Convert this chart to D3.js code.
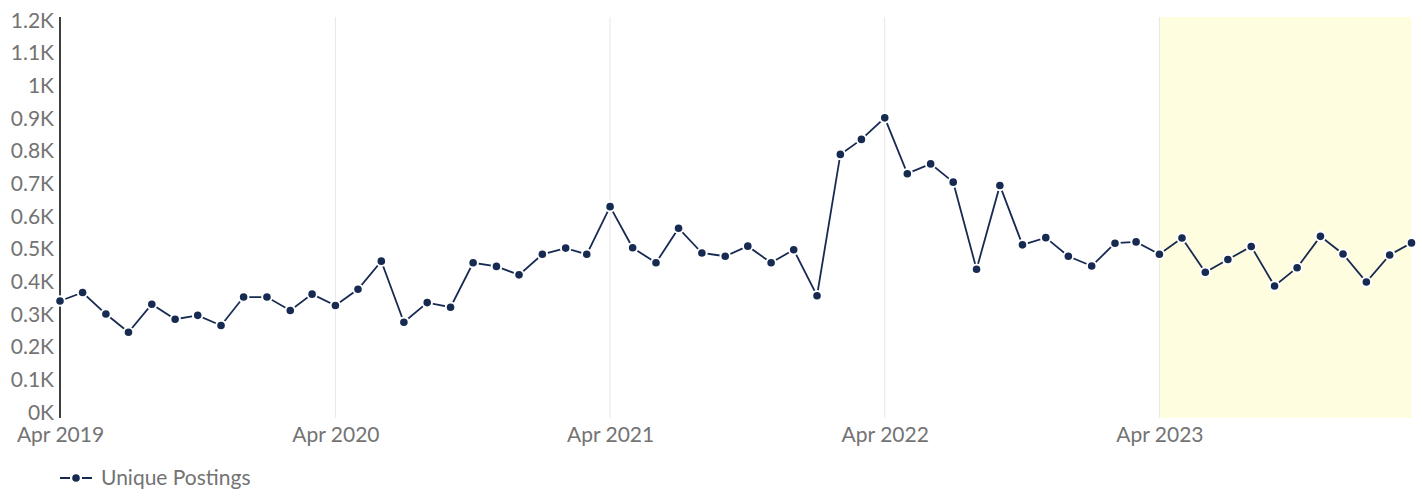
<!DOCTYPE html>
<html>
<head>
<meta charset="utf-8">
<script src="https://cdn.jsdelivr.net/npm/d3@7"></script>
<style>
  html, body { margin: 0; padding: 0; background: #ffffff; }
  svg { display: block; font-family: Lato, "Noto Sans", sans-serif; }
</style>
</head>
<body>
<svg id="chart" width="1422" height="496"></svg>
<script>
(function () {
// ---- data ----
const months = d3.timeMonths(new Date(2019, 3, 1), new Date(2024, 3, 1)); // Apr 2019 .. Mar 2024
const uniquePostings = [
  341, 367, 301, 245, 331, 285, 297, 266, 353,
  353, 312, 362, 327, 377, 463, 276, 336, 322, 458, 447, 421,
  484, 503, 484, 630, 504, 458, 564, 488, 478, 509, 458, 498,
  357, 790, 836, 902, 731, 761, 705, 438, 695, 513, 535, 478,
  448, 518, 522, 484, 534, 429, 468, 508, 387, 443, 539, 485,
  399, 482, 519
];
const yTickValues = [0, 100, 200, 300, 400, 500, 600, 700, 800, 900, 1000, 1100, 1200];
const xTickDates = [new Date(2019, 3, 1), new Date(2020, 3, 1), new Date(2021, 3, 1), new Date(2022, 3, 1), new Date(2023, 3, 1)];
const highlightStart = new Date(2023, 3, 1);
const seriesName = "Unique Postings";

const data = months.map((d, i) => ({ date: d, value: uniquePostings[i] }));

// ---- layout ----
const svg = d3.select("#chart");
const mLeft = 60, mRight = 1411.5, mTop = 17, mBottom = 418;
const fontSize = "21px";

const x = d3.scaleTime()
  .domain([months[0], months[months.length - 1]])
  .range([mLeft, mRight]);
const y = d3.scaleLinear()
  .domain([-17.5, 1211])
  .range([mBottom, mTop]);

const lineColor = "#172a52";
const labelColor = "#737373";

// highlight band
svg.append("rect")
  .attr("x", x(highlightStart))
  .attr("y", mTop)
  .attr("width", x(months[months.length - 1]) - x(highlightStart))
  .attr("height", mBottom - mTop)
  .attr("fill", "#fffde0");

// vertical grid lines
svg.append("g")
  .selectAll("line")
  .data(xTickDates.slice(1))
  .join("line")
  .attr("x1", d => x(d)).attr("x2", d => x(d))
  .attr("y1", mTop).attr("y2", mBottom)
  .attr("stroke", "#e8e8e8")
  .attr("stroke-width", 1);

// y axis
const yAxis = svg.append("g")
  .attr("transform", `translate(${mLeft},0)`)
  .call(d3.axisLeft(y)
    .tickValues(yTickValues)
    .tickSize(0)
    .tickPadding(6)
    .tickFormat(d => (d / 1000) + "K"));
yAxis.select(".domain").remove();
yAxis.selectAll("text")
  .attr("fill", labelColor)
  .style("font-size", fontSize)
  .style("font-family", "Lato, 'Noto Sans', sans-serif");
svg.append("line")
  .attr("x1", mLeft).attr("x2", mLeft)
  .attr("y1", mTop).attr("y2", mBottom)
  .attr("stroke", "#000")
  .attr("stroke-width", 1.5);

// x axis
const xAxis = svg.append("g")
  .attr("transform", `translate(0,${mBottom})`)
  .call(d3.axisBottom(x)
    .tickValues(xTickDates)
    .tickSize(0)
    .tickPadding(9)
    .tickFormat(d3.timeFormat("%b %Y")));
xAxis.select(".domain").remove();
xAxis.selectAll("text")
  .attr("fill", labelColor)
  .style("font-size", fontSize)
  .style("font-family", "Lato, 'Noto Sans', sans-serif");

// line
const line = d3.line().x(d => x(d.date)).y(d => y(d.value));
svg.append("path")
  .datum(data)
  .attr("d", line)
  .attr("fill", "none")
  .attr("stroke", lineColor)
  .attr("stroke-width", 1.8);

// markers
svg.append("g")
  .selectAll("circle")
  .data(data)
  .join("circle")
  .attr("cx", d => x(d.date))
  .attr("cy", d => y(d.value))
  .attr("r", 4.8)
  .attr("fill", lineColor)
  .attr("stroke", "#ffffff")
  .attr("stroke-width", 2);

// legend
const lg = svg.append("g").attr("transform", "translate(60,478)");
lg.append("line").attr("x1", 0).attr("x2", 10).attr("stroke", lineColor).attr("stroke-width", 2);
lg.append("line").attr("x1", 22).attr("x2", 32).attr("stroke", lineColor).attr("stroke-width", 2);
lg.append("circle").attr("cx", 16).attr("cy", 0).attr("r", 3.8).attr("fill", lineColor);
lg.append("text")
  .attr("x", 41).attr("y", 0).attr("dy", "0.35em")
  .attr("fill", labelColor)
  .style("font-size", fontSize)
  .text(seriesName);
})();
</script>
</body>
</html>
